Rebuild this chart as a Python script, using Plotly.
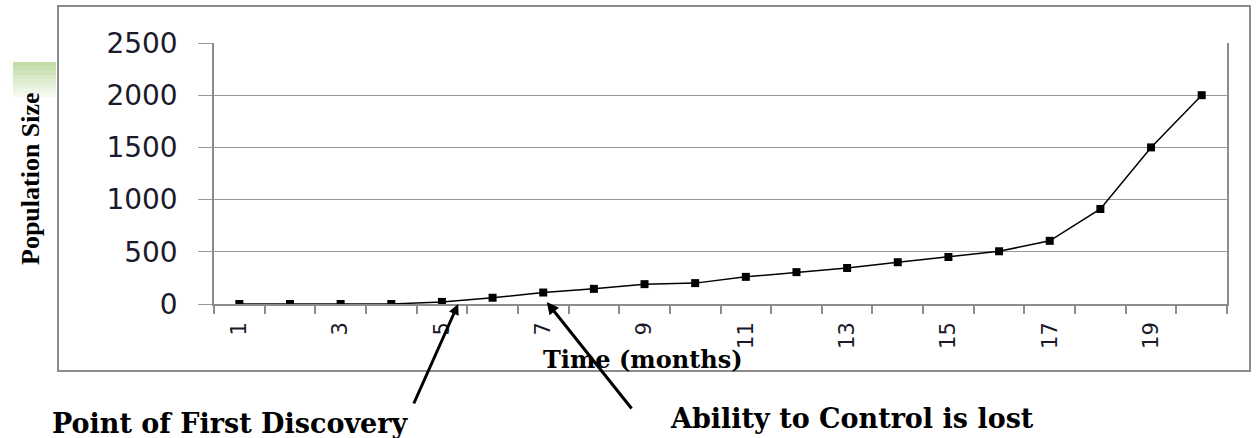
import plotly.graph_objects as go

months = [1, 2, 3, 4, 5, 6, 7, 8, 9, 10, 11, 12, 13, 14, 15, 16, 17, 18, 19, 20]
population = [0, 0, 0, 0, 20, 60, 110, 145, 190, 200, 260, 305, 345, 400, 450, 505, 605, 910, 1500, 2000]
x_tick_values = [1, 3, 5, 7, 9, 11, 13, 15, 17, 19]
x_tick_labels = ["1", "3", "5", "7", "9", "11", "13", "15", "17", "19"]
y_tick_values = [0, 500, 1000, 1500, 2000, 2500]
y_tick_labels = ["0", "500", "1000", "1500", "2000", "2500"]

W, H = 1256, 438
L, R, T, B = 214, 29, 43, 438 - 304
PW, PH = W - L - R, H - T - B


def px(x):
    """window pixel x -> paper x"""
    return (x - L) / PW


def py(y):
    """window pixel y -> paper y"""
    return (H - B - y) / PH


fig = go.Figure()
fig.add_trace(go.Scatter(
    x=months, y=population, mode="lines+markers",
    line=dict(color="black", width=1.5),
    marker=dict(symbol="square", size=8, color="black"),
    showlegend=False, hoverinfo="x+y",
))

shapes = [
    dict(type="rect", xref="paper", yref="paper",
         x0=px(58), x1=px(1250), y0=py(371), y1=py(6),
         line=dict(color="#8c8c8c", width=2), fillcolor="rgba(0,0,0,0)", layer="below"),
]
# decorative green gradient patch
n = 8
top, bot = 62, 97
for i in range(n):
    y0 = top + (bot - top) * i / n
    y1 = top + (bot - top) * (i + 1) / n
    shapes.append(dict(type="rect", xref="paper", yref="paper",
                       x0=px(13), x1=px(56), y0=py(y1), y1=py(y0),
                       line=dict(width=0),
                       fillcolor="rgba(150,195,100,%.3f)" % (0.55 * (1 - i / n) + 0.03),
                       layer="below"))

bold_serif = "DejaVu Serif"
annotations = [
    dict(text="<b>Population Size</b>", xref="paper", yref="paper",
         x=px(30), y=py(179), xanchor="center", yanchor="middle", showarrow=False,
         textangle=-90,
         font=dict(family="Liberation Serif", size=26, color="black")),
    dict(text="<b>Time (months)</b>", xref="paper", yref="paper",
         x=px(643), y=py(359), xanchor="center", yanchor="middle", showarrow=False,
         font=dict(family=bold_serif, size=24, color="black")),
    dict(text="<b>Point of First Discovery</b>", xref="paper", yref="paper",
         x=px(230), y=py(423), xanchor="center", yanchor="middle", showarrow=False,
         font=dict(family=bold_serif, size=27, color="black")),
    dict(text="<b>Ability to Control is lost</b>", xref="paper", yref="paper",
         x=px(852), y=py(418), xanchor="center", yanchor="middle", showarrow=False,
         font=dict(family=bold_serif, size=27, color="black")),
    dict(text="", x=5.32, y=0, xref="x", yref="y", showarrow=True,
         ax=-45, ay=101, arrowhead=2, arrowsize=0.7, arrowwidth=3, arrowcolor="black",
         standoff=0),
    dict(text="", x=7.07, y=19, xref="x", yref="y", showarrow=True,
         ax=86, ay=108, arrowhead=2, arrowsize=0.8, arrowwidth=3, arrowcolor="black",
         standoff=0),
]

fig.update_layout(
    width=W, height=H,
    margin=dict(l=L, r=R, t=T, b=B, autoexpand=False),
    paper_bgcolor="white", plot_bgcolor="white",
    shapes=shapes, annotations=annotations,
    xaxis=dict(
        range=[0.5, 20.5], tickmode="array", tickvals=x_tick_values, ticktext=x_tick_labels,
        tickangle=-90, ticks="", showgrid=False, zeroline=False,
        showline=True, linecolor="#8c8c8c", linewidth=1.5,
        tickfont=dict(family="DejaVu Sans", size=21, color="#1a1a2a"),
        ticklabelstandoff=8,
        minor=dict(ticks="outside", tick0=0.5, dtick=1, ticklen=8, tickwidth=1.5,
                   tickcolor="#8c8c8c", showgrid=False),
    ),
    yaxis=dict(
        range=[0, 2500], tickmode="array", tickvals=y_tick_values, ticktext=y_tick_labels,
        ticks="outside", ticklen=14, tickcolor="#999999", tickwidth=1,
        showgrid=True, gridcolor="#999999", gridwidth=1, zeroline=False,
        showline=True, mirror=True, linecolor="#8c8c8c", linewidth=1.5,
        tickfont=dict(family="DejaVu Sans", size=28, color="#1a1a2a"),
        ticklabelstandoff=15,
    ),
)

fig.write_html(
    "out.html",
    config={"displayModeBar": False},
    post_script="document.body.style.margin='0px';document.body.style.overflow='hidden';",
)
